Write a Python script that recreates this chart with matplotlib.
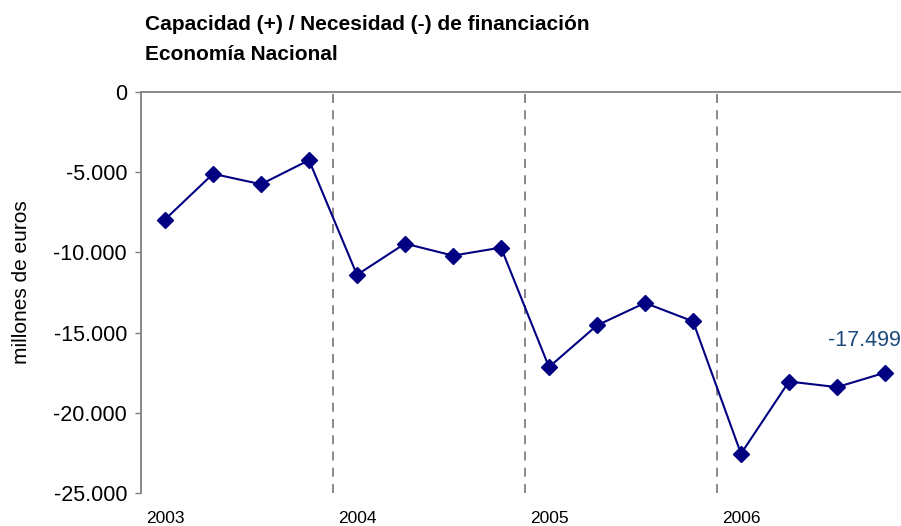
import matplotlib
matplotlib.use("Agg")
import matplotlib.pyplot as plt

# -------------------- DATA --------------------
years = ["2003", "2004", "2005", "2006"]
quarters_per_year = 4
# quarterly values, millones de euros
values = [
    -7950, -5100, -5750, -4250,      # 2003
    -11400, -9450, -10200, -9700,    # 2004
    -17150, -14550, -13150, -14300,  # 2005
    -22550, -18050, -18400, -17499,  # 2006
]
last_label = "-17.499"
y_ticks = [0, -5000, -10000, -15000, -20000, -25000]
y_tick_labels = ["0", "-5.000", "-10.000", "-15.000", "-20.000", "-25.000"]

# -------------------- STYLE --------------------
plt.rcParams["font.family"] = ["Liberation Sans", "DejaVu Sans"]
W, H = 901, 526
DPI = 100
LINE_COLOR = "#000080"
AXIS_GRAY = "#808080"


def px(x):
    return x / W


def py(y):
    # pixel y from top -> figure fraction from bottom
    return 1 - y / H


def main():
    fig = plt.figure(figsize=(W / DPI, H / DPI), dpi=DPI)
    # plot area runs past the right edge of the picture, as in the original
    ax = fig.add_axes([px(141), py(493), px(768), (493 - 92) / H])

    n = len(values)
    xs = [i + 0.5 for i in range(n)]

    # year separators
    for k in range(1, len(years)):
        ax.axvline(k * quarters_per_year, color=AXIS_GRAY, lw=1.3,
                   linestyle=(0, (5, 4)), zorder=1)

    ax.plot(xs, values, color=LINE_COLOR, lw=1.5, marker="D",
            markersize=8, markerfacecolor=LINE_COLOR,
            markeredgecolor=LINE_COLOR, zorder=3)

    ax.annotate(last_label, xy=(xs[-1], values[-1]), xytext=(-41, 19.5),
                textcoords="offset points", ha="left", va="baseline",
                fontsize=15.5, color="#1B4A7A")

    ax.set_xlim(0, n)
    ax.set_ylim(-25000, 0)

    ax.set_yticks(y_ticks)
    ax.set_yticklabels(y_tick_labels)
    ax.tick_params(axis="y", direction="out", length=4, width=1,
                   color=AXIS_GRAY, labelsize=15.5, pad=6)

    ax.set_xticks([k * quarters_per_year + 0.5 for k in range(len(years))])
    ax.set_xticklabels(years)
    ax.tick_params(axis="x", length=0, labelsize=12.5, pad=13)

    for side in ["bottom", "right"]:
        ax.spines[side].set_visible(False)
    ax.spines["top"].set_color(AXIS_GRAY)
    ax.spines["top"].set_linewidth(1.3)
    ax.spines["left"].set_color(AXIS_GRAY)
    ax.spines["left"].set_linewidth(1.3)

    fig.text(px(22), py(282), "millones de euros", rotation=90,
             ha="center", va="center", fontsize=15)

    fig.text(px(145), py(30), "Capacidad (+) / Necesidad (-) de financiación",
             ha="left", va="baseline", fontsize=15, fontweight="bold")
    fig.text(px(145), py(60), "Economía Nacional",
             ha="left", va="baseline", fontsize=15, fontweight="bold")

    fig.savefig("out.png", dpi=DPI)
    plt.close(fig)


if __name__ == "__main__":
    main()
